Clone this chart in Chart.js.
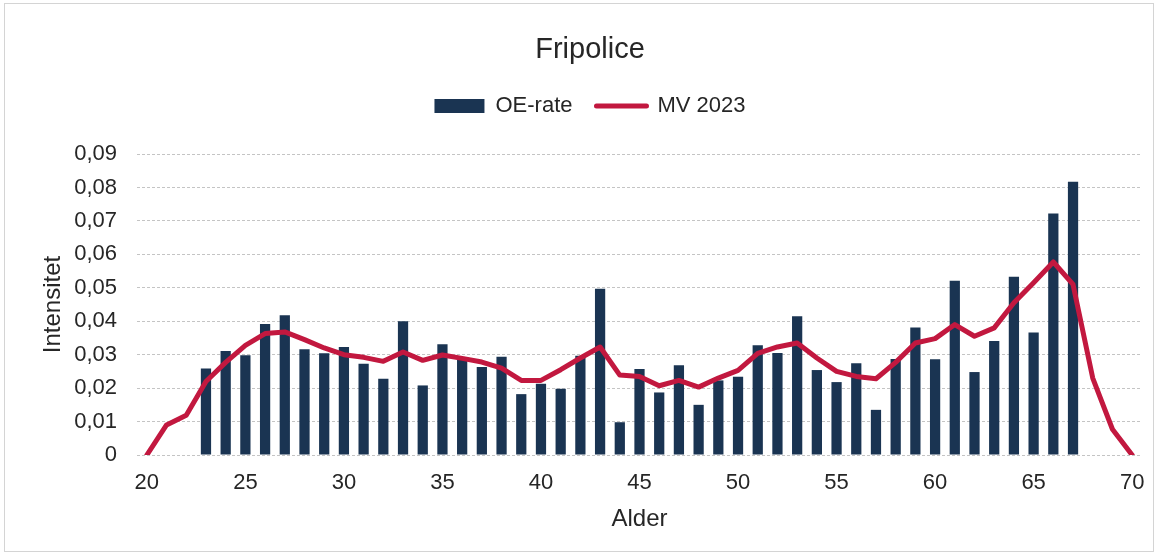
<!DOCTYPE html>
<html>
<head>
<meta charset="utf-8">
<script src="https://cdn.jsdelivr.net/npm/chart.js@4"></script>
<style>
  html, body { margin: 0; padding: 0; background: #fff; }
  #wrap { position: relative; width: 1160px; height: 557px; }
  #frame { position: absolute; left: 4px; top: 3px; width: 1150px; height: 549px; border: 1px solid #d4d4d4; box-sizing: border-box; pointer-events: none; }
  canvas { position: absolute; left: 0; top: 0; }
</style>
</head>
<body>
<div id="wrap">
  <canvas id="c" width="1160" height="557"></canvas>
  <div id="frame"></div>
</div>
<script>
const ages = [20,21,22,23,24,25,26,27,28,29,30,31,32,33,34,35,36,37,38,39,40,41,42,43,44,45,46,47,48,49,50,51,52,53,54,55,56,57,58,59,60,61,62,63,64,65,66,67,68,69,70];
const oeRate = [null,null,null,0.0259,0.0311,0.0298,0.0392,0.0418,0.0316,0.0304,0.0323,0.0273,0.0228,0.0400,0.0208,0.0331,0.0290,0.0263,0.0294,0.0182,0.0213,0.0198,0.0297,0.0497,0.0098,0.0257,0.0187,0.0268,0.0150,0.0223,0.0234,0.0328,0.0305,0.0415,0.0254,0.0218,0.0274,0.0135,0.0287,0.0381,0.0286,0.0521,0.0248,0.0341,0.0533,0.0366,0.0722,0.0817,null,null,null];
const mv2023 = [0,0.0090,0.0119,0.0220,0.0277,0.0328,0.0363,0.0368,0.0345,0.0320,0.0300,0.0292,0.0280,0.0308,0.0283,0.0299,0.0289,0.0278,0.0260,0.0223,0.0223,0.0255,0.0290,0.0323,0.0239,0.0235,0.0207,0.0223,0.0203,0.0230,0.0253,0.0304,0.0323,0.0335,0.0290,0.0250,0.0235,0.0228,0.0277,0.0335,0.0348,0.0390,0.0355,0.0380,0.0455,0.0515,0.0577,0.0510,0.0230,0.0077,0];
const yTicks = [0,0.01,0.02,0.03,0.04,0.05,0.06,0.07,0.08,0.09];

const BAR = '#1a3452';
const LINE = '#c2183f';
const TXT = '#262626';
const FONT = "'Liberation Sans', Arial, sans-serif";

new Chart(document.getElementById('c'), {
  data: {
    labels: ages,
    datasets: [
      { type: 'bar', label: 'OE-rate', data: oeRate, backgroundColor: BAR, borderWidth: 0,
        barPercentage: 0.52, categoryPercentage: 1.0, order: 1 },
      { type: 'line', label: 'MV 2023', data: mv2023, borderColor: LINE, backgroundColor: LINE,
        borderWidth: 5, pointRadius: 0, tension: 0, borderCapStyle: 'round', borderJoinStyle: 'round', order: 0 }
    ]
  },
  options: {
    responsive: false,
    animation: false,
    devicePixelRatio: 1,
    layout: { padding: { left: 38, right: 18, top: 0, bottom: 0 } },
    plugins: {
      tooltip: { enabled: false },
      title: {
        display: true, text: 'Fripolice', color: TXT,
        font: { family: FONT, size: 29, weight: 'normal', lineHeight: 1.2 },
        padding: { top: 32.6, bottom: 3.6 }
      },
      subtitle: {
        display: true, text: '', weight: 500,
        font: { size: 10, lineHeight: 1 },
        padding: { top: 17, bottom: 0 }
      },
      legend: {
        display: true, position: 'top',
        labels: {
          color: TXT, font: { family: FONT, size: 22 },
          usePointStyle: true, pointStyleWidth: 50, boxHeight: 14, padding: 24,
          sort: (a, b) => a.datasetIndex - b.datasetIndex,
          generateLabels: (chart) => [
            { text: 'OE-rate', datasetIndex: 0, pointStyle: 'rect', fillStyle: BAR, strokeStyle: BAR, lineWidth: 0, fontColor: TXT },
            { text: 'MV 2023', datasetIndex: 1, pointStyle: 'line', fillStyle: LINE, strokeStyle: LINE, lineWidth: 5, lineCap: 'round', fontColor: TXT }
          ]
        }
      }
    },
    scales: {
      x: {
        type: 'category', offset: true,
        grid: { display: false, drawTicks: false },
        border: { display: false },
        ticks: {
          color: TXT, font: { family: FONT, size: 22 }, padding: 15,
          autoSkip: false, maxRotation: 0,
          callback: function(v) { const a = ages[v]; return a % 5 === 0 ? String(a) : ''; }
        },
        title: { display: true, text: 'Alder', color: TXT, font: { family: FONT, size: 24 }, padding: { top: 0, bottom: 23.6 } },
        afterFit: (s) => { s.height = 102; }
      },
      y: {
        min: 0, max: 0.09,
        grid: { color: '#c4c4c4', lineWidth: 1, drawTicks: false },
        border: { display: false, dash: [3, 2] },
        afterBuildTicks: (s) => { s.ticks = yTicks.map(v => ({ value: v })); },
        ticks: {
          color: TXT, font: { family: FONT, size: 22 }, padding: 20,
          callback: (v) => v === 0 ? '0' : v.toFixed(2).replace('.', ',')
        },
        title: { display: true, text: 'Intensitet', color: TXT, font: { family: FONT, size: 24 }, padding: { top: 1, bottom: 0 } },
        afterFit: (s) => { s.width = 99; }
      }
    }
  }
});
</script>
</body>
</html>
